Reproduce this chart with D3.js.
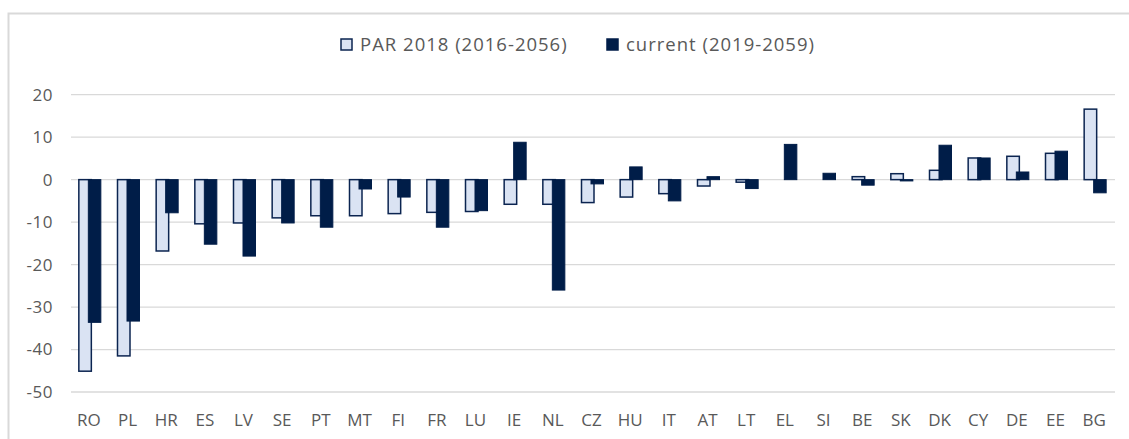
<!DOCTYPE html>
<html>
<head>
<meta charset="utf-8">
<script src="https://cdn.jsdelivr.net/npm/d3@7/dist/d3.min.js"></script>
<style>
  body { margin: 0; background: #fff; }
  svg text { font-family: "Open Sans", sans-serif; fill: #595959; }
</style>
</head>
<body>
<div id="chart"></div>
<script>
'use strict';

// categories and series
const countries = ["RO", "PL", "HR", "ES", "LV", "SE", "PT", "MT", "FI", "FR", "LU", "IE", "NL", "CZ",
  "HU", "IT", "AT", "LT", "EL", "SI", "BE", "SK", "DK", "CY", "DE", "EE", "BG"];
const par2018 = [-45.1, -41.5, -16.8, -10.4, -10.2, -9.0, -8.5, -8.5, -8.0, -7.7, -7.5, -5.8, -5.8, -5.4,
  -4.1, -3.3, -1.5, -0.6, 0, 0, 0.7, 1.4, 2.2, 5.1, 5.5, 6.2, 16.6];
const current = [-33.6, -33.3, -7.8, -15.2, -18.0, -10.2, -11.2, -2.2, -4.1, -11.2, -7.3, 8.8, -26.0, -1.0,
  3.0, -5.0, 0.7, -2.1, 8.3, 1.5, -1.3, -0.3, 8.1, 5.1, 1.8, 6.7, -3.1];
const yTicks = [20, 10, 0, -10, -20, -30, -40, -50];
const seriesNames = ["PAR 2018 (2016-2056)", "current (2019-2059)"];

const W = 1129, H = 439;
const colorPar = "#dae3f3", colorCur = "#001d48", edge = "#0b2450";

const svg = d3.select("#chart").append("svg")
  .attr("width", W)
  .attr("height", H);

// outer frame (runs off right and bottom edges)
svg.append("rect")
  .attr("x", 8.5).attr("y", 13.5)
  .attr("width", W).attr("height", H)
  .style("fill", "none")
  .style("stroke", "#d9d9d9")
  .style("stroke-width", 2);

const x = d3.scaleBand()
  .domain(countries)
  .range([71, 1115])
  .padding(0);

const y = d3.scaleLinear()
  .domain([-50, 20])
  .range([392, 94.7]);

// gridlines
svg.selectAll(".grid")
  .data(yTicks)
  .enter().append("line")
  .attr("class", "grid")
  .attr("x1", 71).attr("x2", 1115)
  .attr("y1", d => y(d)).attr("y2", d => y(d))
  .style("stroke", "#d9d9d9")
  .style("stroke-width", 1.3);

// y labels
svg.selectAll(".ylab")
  .data(yTicks)
  .enter().append("text")
  .attr("class", "ylab")
  .attr("x", 53)
  .attr("y", d => y(d))
  .attr("dy", "0.35em")
  .attr("text-anchor", "end")
  .style("font-size", "17px")
  .style("letter-spacing", "0.5px")
  .text(d => d);

// x labels
svg.selectAll(".xlab")
  .data(countries)
  .enter().append("text")
  .attr("class", "xlab")
  .attr("x", d => x(d) + x.bandwidth() / 2 - 1.5)
  .attr("y", 420)
  .attr("dy", "0.35em")
  .attr("text-anchor", "middle")
  .style("font-size", "17px")
  .text(d => d);

const bw = 12.5, overlap = 3;

// PAR 2018 bars
svg.selectAll(".barPar")
  .data(par2018)
  .enter().append("rect")
  .attr("class", "barPar")
  .attr("x", (d, i) => x(countries[i]) + x.bandwidth() / 2 - bw + overlap / 2 - 0.5)
  .attr("y", d => y(Math.max(0, d)))
  .attr("width", bw)
  .attr("height", d => Math.abs(y(d) - y(0)))
  .style("fill", colorPar)
  .style("stroke", edge)
  .style("stroke-width", 1.5)
  .style("display", d => d === 0 ? "none" : null);

// current bars
svg.selectAll(".barCur")
  .data(current)
  .enter().append("rect")
  .attr("class", "barCur")
  .attr("x", (d, i) => x(countries[i]) + x.bandwidth() / 2 - overlap / 2 - 0.5)
  .attr("y", d => y(Math.max(0, d)))
  .attr("width", bw)
  .attr("height", d => Math.abs(y(d) - y(0)))
  .style("fill", colorCur)
  .style("stroke", colorCur)
  .style("stroke-width", 1);

// legend
const legend = svg.append("g").attr("class", "legend");
const legItems = [
  { name: seriesNames[0], x: 341, fill: colorPar, stroke: edge },
  { name: seriesNames[1], x: 607, fill: colorCur, stroke: colorCur }
];
legItems.forEach(it => {
  legend.append("rect")
    .attr("x", it.x).attr("y", 39)
    .attr("width", 11).attr("height", 11)
    .style("fill", it.fill)
    .style("stroke", it.stroke)
    .style("stroke-width", 1.5);
  legend.append("text")
    .attr("x", it.x + 19)
    .attr("y", 45)
    .attr("dy", "0.35em")
    .style("font-size", "18.5px")
    .style("letter-spacing", "1px")
    .text(it.name);
});
</script>
</body>
</html>
